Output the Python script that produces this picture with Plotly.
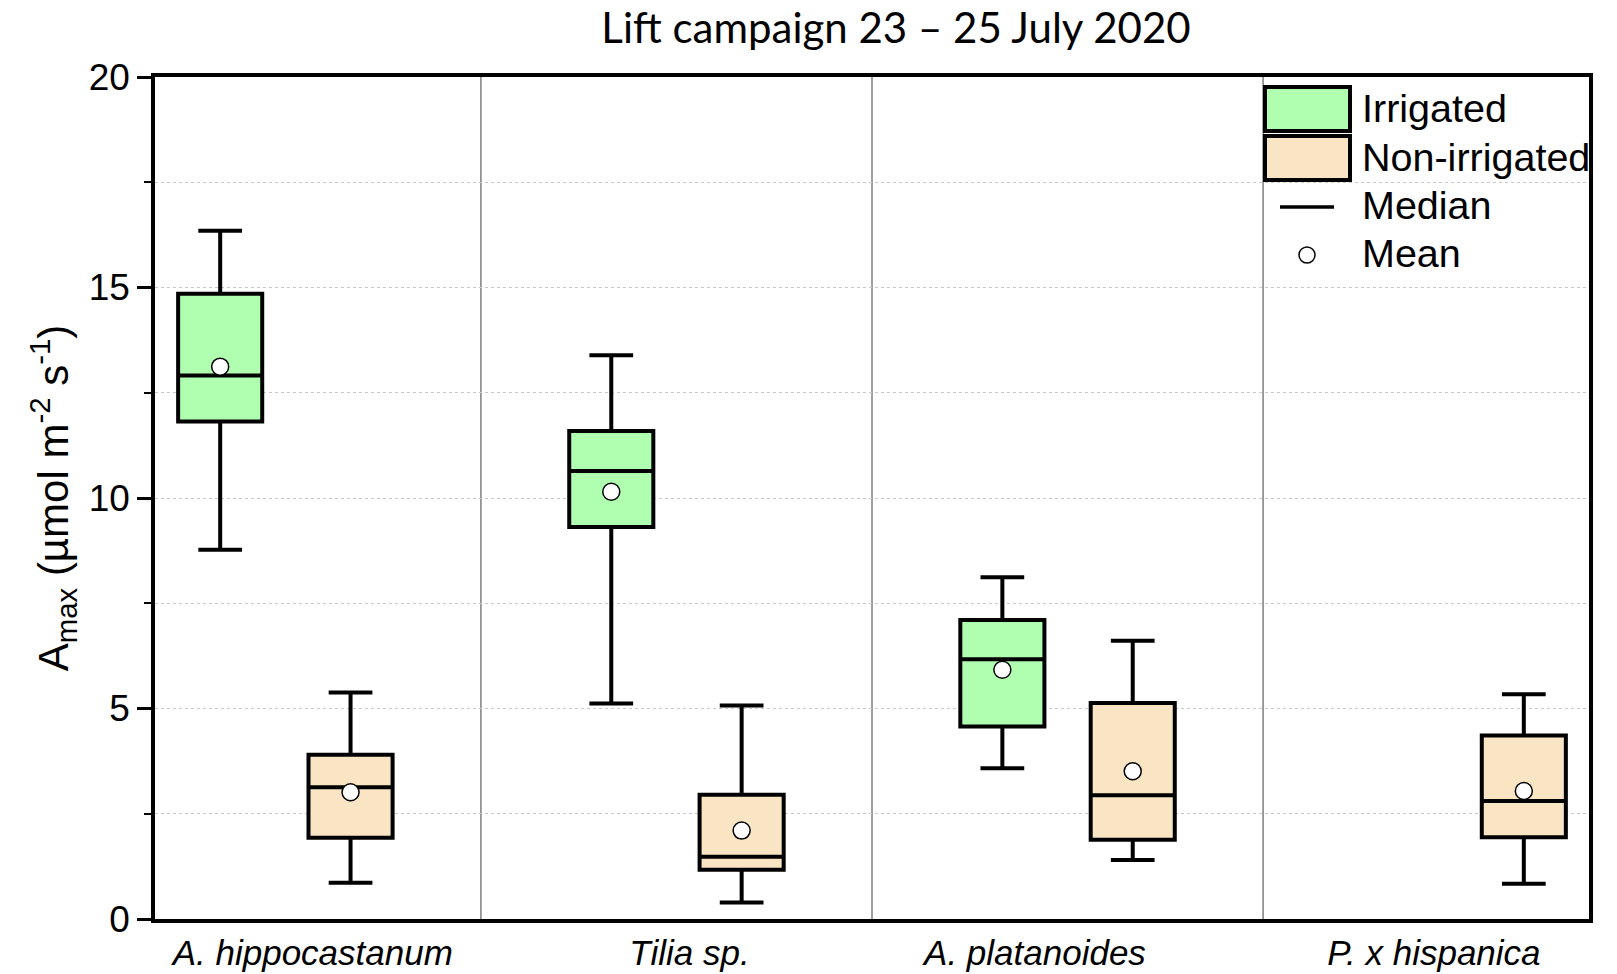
import plotly.graph_objects as go

# Species and their label positions on the numeric x axis
species = ["A. hippocastanum", "Tilia sp.", "A. platanoides", "P. x hispanica"]
label_pos = [1.71, 4.60, 7.25, 10.31]

# Box positions: irrigated at 3g+1, non-irrigated at 3g+2
irr_x = [1, 4, 7]
irr_low = [8.77, 5.12, 3.58]
irr_q1 = [11.82, 9.31, 4.57]
irr_med = [12.91, 10.64, 6.17]
irr_q3 = [14.85, 11.59, 7.10]
irr_high = [16.35, 13.39, 8.12]
irr_mean = [13.12, 10.15, 5.92]

non_x = [2, 5, 8, 11]
non_low = [0.86, 0.39, 1.40, 0.84]
non_q1 = [1.93, 1.17, 1.88, 1.94]
non_med = [3.13, 1.48, 2.94, 2.80]
non_q3 = [3.90, 2.95, 5.13, 4.36]
non_high = [5.38, 5.07, 6.61, 5.34]
non_mean = [3.01, 2.10, 3.51, 3.04]

GREEN = "#B0FFB0"
TAN = "#F9E5C3"
FONT = "Arial, Liberation Sans, sans-serif"

fig = go.Figure()


def add_boxes(xs, low, q1, med, q3, high, color):
    for i, x in enumerate(xs):
        fig.add_trace(go.Box(
            x=[x], lowerfence=[low[i]], q1=[q1[i]], median=[med[i]],
            q3=[q3[i]], upperfence=[high[i]],
            fillcolor=color, line=dict(color="black", width=4),
            width=0.645, whiskerwidth=0.52, boxpoints=False,
            showlegend=False, hoverinfo="skip",
        ))


add_boxes(irr_x, irr_low, irr_q1, irr_med, irr_q3, irr_high, GREEN)
add_boxes(non_x, non_low, non_q1, non_med, non_q3, non_high, TAN)

# Means as open circles
fig.add_trace(go.Scatter(
    x=irr_x + non_x, y=irr_mean + non_mean, mode="markers",
    marker=dict(symbol="circle", size=17, color="white",
                line=dict(color="black", width=1.5)),
    showlegend=False, hoverinfo="skip",
))

# Vertical separators between species groups
for g in range(1, len(species)):
    fig.add_shape(type="line", xref="x", yref="paper", x0=3 * g, x1=3 * g,
                  y0=0, y1=1, line=dict(color="#7f7f7f", width=1.5),
                  layer="below")

# Custom legend drawn in paper coordinates
W, H = 1617, 974
L, R, T, B = 155, 28, 77, 55
pw, ph = W - L - R, H - T - B


def px(x):
    return (x - L) / pw


def py(y):
    return 1 - (y - T) / ph


legend_rows = [("Irrigated", GREEN, 109), ("Non-irrigated", TAN, 158)]
for text, color, yc in legend_rows:
    fig.add_shape(type="rect", xref="paper", yref="paper",
                  x0=px(1265), x1=px(1350), y0=py(yc - 22), y1=py(yc + 22),
                  fillcolor=color, line=dict(color="black", width=4))
fig.add_shape(type="line", xref="paper", yref="paper",
              x0=px(1280), x1=px(1334), y0=py(207), y1=py(207),
              line=dict(color="black", width=3.5))
fig.add_trace(go.Scatter(
    x=[px(1307)], y=[py(255)], xaxis="x2", yaxis="y2", mode="markers",
    marker=dict(symbol="circle", size=16, color="white",
                line=dict(color="black", width=1.5)),
    showlegend=False, hoverinfo="skip",
))
for text, yc in [("Irrigated", 108), ("Non-irrigated", 157),
                 ("Median", 205), ("Mean", 253)]:
    fig.add_annotation(xref="paper", yref="paper", x=px(1360), y=py(yc),
                       text=text, showarrow=False, xanchor="left",
                       yanchor="middle", font=dict(family=FONT, size=39.5,
                                                   color="black"))

fig.update_layout(
    width=W, height=H,
    margin=dict(l=L, r=R, t=T, b=B, autoexpand=False),
    paper_bgcolor="white", plot_bgcolor="white",
    title=dict(text="Lift campaign 23 \u2013 25 July 2020",
               x=896 / W, xanchor="center", y=1 - 28 / H, yanchor="middle",
               font=dict(family="Lato, Open Sans, sans-serif", size=42,
                         color="black")),
    xaxis=dict(range=[0.5, 11.5], tickvals=label_pos,
               ticktext=[f"<i>{s}</i>" for s in species],
               ticks="", showgrid=False, zeroline=False, automargin=False,
               showline=True, linecolor="black", linewidth=3.5, mirror=True,
               tickfont=dict(family=FONT, size=35, color="black")),
    yaxis=dict(range=[0, 20], tickvals=[0, 5, 10, 15, 20], automargin=False,
               ticks="outside", ticklen=14, tickwidth=3, tickcolor="black",
               showgrid=True, gridcolor="#c8c8c8", griddash="dot",
               gridwidth=1, zeroline=False,
               showline=True, linecolor="black", linewidth=3.5, mirror=True,
               tickfont=dict(family=FONT, size=37, color="black"),
               minor=dict(dtick=2.5, tick0=0, ticks="outside", ticklen=7,
                          tickwidth=2, tickcolor="black", showgrid=True,
                          gridcolor="#c8c8c8", griddash="dot", gridwidth=1),
               title=dict(text="A<sub>max</sub> (\u00b5mol m<sup>-2</sup> s<sup>-1</sup>)",
                          font=dict(family=FONT, size=42, color="black"),
                          standoff=8)),
    xaxis2=dict(range=[0, 1], overlaying="x", visible=False),
    yaxis2=dict(range=[0, 1], overlaying="y", visible=False),
)

fig.write_html("out.html")
